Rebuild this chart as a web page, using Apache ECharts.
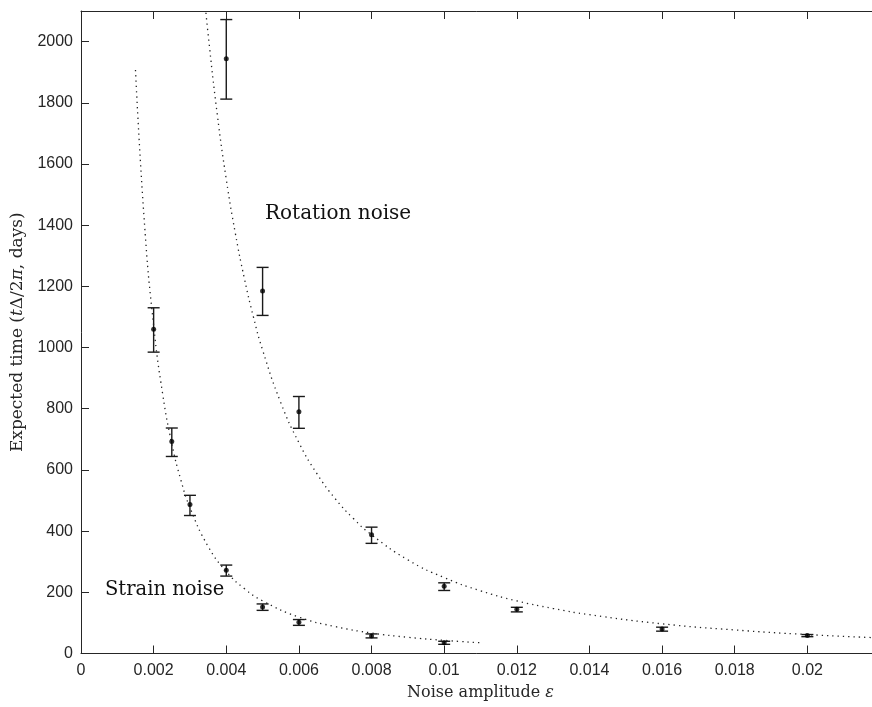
<!DOCTYPE html>
<html>
<head>
<meta charset="utf-8">
<script src="https://cdn.jsdelivr.net/npm/echarts@6/dist/echarts.min.js"></script>
<style>
  html, body { margin: 0; padding: 0; background: #fff; }
  #chart { width: 872px; height: 707px; }
</style>
</head>
<body>
<div id="chart"></div>
<script>
// measured points: [noise amplitude, mean time, lower, upper]
const strainPoints = [
  [0.002, 1060, 985, 1130],
  [0.0025, 693, 644, 737],
  [0.003, 487, 451, 517],
  [0.004, 272, 253, 289],
  [0.005, 152, 141, 162],
  [0.006, 102, 92, 111],
  [0.008, 57, 51, 64],
  [0.01, 35, 30, 40]
];
const rotationPoints = [
  [0.004, 1944, 1812, 2072],
  [0.005, 1185, 1105, 1262],
  [0.006, 790, 736, 840],
  [0.008, 388, 360, 413],
  [0.01, 220, 206, 231],
  [0.012, 145, 136, 151],
  [0.016, 80, 73, 86],
  [0.02, 59, 55, 62]
];
// dotted fit curves
const strainFit = [
  [0.0015, 1907], [0.00175, 1401], [0.002, 1072], [0.00225, 847], [0.0025, 686],
  [0.00275, 567], [0.003, 477], [0.0035, 350], [0.004, 268], [0.0045, 212],
  [0.005, 172], [0.006, 119], [0.007, 88], [0.008, 67], [0.009, 53],
  [0.01, 43], [0.011, 35]
];
const rotationFit = [
  [0.0034, 2145], [0.0035, 2024], [0.00375, 1764], [0.004, 1550], [0.00425, 1373],
  [0.0045, 1225], [0.00475, 1099], [0.005, 992], [0.0055, 820], [0.006, 689],
  [0.0065, 587], [0.007, 506], [0.0075, 441], [0.008, 388], [0.009, 306],
  [0.01, 248], [0.011, 205], [0.012, 172], [0.013, 147], [0.014, 127],
  [0.016, 97], [0.018, 77], [0.02, 62], [0.022, 51]
];

const chart = echarts.init(document.getElementById('chart'));

const axisColor = '#262626';
const serif = 'DejaVu Serif';
const tickFont = { color: axisColor, fontSize: 16, fontFamily: 'Liberation Sans' };

// error bar: vertical line with caps
function renderBar(params, api) {
  const x = api.value(0);
  const lo = api.coord([x, api.value(2)]);
  const hi = api.coord([x, api.value(3)]);
  const w = 6;
  const style = { stroke: '#1a1a1a', lineWidth: 1.4 };
  return {
    type: 'group',
    children: [
      { type: 'line', shape: { x1: lo[0], y1: lo[1], x2: hi[0], y2: hi[1] }, style },
      { type: 'line', shape: { x1: lo[0] - w, y1: lo[1], x2: lo[0] + w, y2: lo[1] }, style },
      { type: 'line', shape: { x1: hi[0] - w, y1: hi[1], x2: hi[0] + w, y2: hi[1] }, style }
    ]
  };
}

const option = {
  animation: false,
  backgroundColor: '#fff',
  grid: { left: 81, right: -8, top: 11, bottom: 53.5, containLabel: false, outerBoundsMode: 'none' },
  xAxis: [{
    type: 'value',
    min: 0, max: 0.022, interval: 0.002,
    name: '{n|Noise amplitude }{e|ε}',
    nameLocation: 'middle',
    nameGap: 31,
    nameTextStyle: {
      rich: {
        n: { fontFamily: serif, fontSize: 16, color: axisColor },
        e: { fontFamily: serif, fontStyle: 'italic', fontSize: 16, color: axisColor }
      }
    },
    axisLine: { onZero: false, lineStyle: { color: axisColor, width: 1 } },
    axisTick: { inside: true, length: 8, lineStyle: { color: axisColor } },
    axisLabel: Object.assign({ margin: 9, showMaxLabel: false,
      formatter: v => (Math.round(v * 1000) / 1000).toString() }, tickFont),
    splitLine: { show: false }
  }, {
    type: 'value', position: 'top',
    min: 0, max: 0.022, interval: 0.002,
    axisLine: { show: true, onZero: false, lineStyle: { color: axisColor } },
    axisTick: { show: true, inside: true, length: 8, lineStyle: { color: axisColor } },
    axisLabel: { show: false },
    splitLine: { show: false }
  }],
  yAxis: [{
    type: 'value',
    min: 0, max: 2100, interval: 200,
    name: '{n|Expected time (}{i|t}{n|Δ/2}{i|π}{n|, days)}',
    nameLocation: 'middle',
    nameGap: 55,
    nameTextStyle: {
      rich: {
        n: { fontFamily: serif, fontSize: 17, color: axisColor },
        i: { fontFamily: serif, fontStyle: 'italic', fontSize: 17, color: axisColor }
      }
    },
    axisLine: { show: true, onZero: false, lineStyle: { color: axisColor } },
    axisTick: { show: true, inside: true, length: 8, lineStyle: { color: axisColor } },
    axisLabel: Object.assign({ margin: 8, showMaxLabel: false,
      formatter: v => String(v) }, tickFont),
    splitLine: { show: false }
  }, {
    type: 'value', position: 'right',
    min: 0, max: 2100, interval: 200,
    axisLine: { show: true, onZero: false, lineStyle: { color: axisColor } },
    axisTick: { show: true, inside: true, length: 8, lineStyle: { color: axisColor } },
    axisLabel: { show: false },
    splitLine: { show: false }
  }],
  graphic: [
    { type: 'text', left: 265, top: 204,
      style: { text: 'Rotation noise', font: '20px "DejaVu Serif"', fill: '#111' } },
    { type: 'text', left: 105, top: 580,
      style: { text: 'Strain noise', font: '19.5px "DejaVu Serif"', fill: '#111' } }
  ],
  series: [
    {
      type: 'line', data: strainFit, smooth: true, showSymbol: false, clip: true,
      lineStyle: { color: '#222', width: 1.3, type: [1.3, 4] }
    },
    {
      type: 'line', data: rotationFit, smooth: true, showSymbol: false, clip: true,
      lineStyle: { color: '#222', width: 1.3, type: [1.3, 4] }
    },
    { type: 'custom', renderItem: renderBar, data: strainPoints, encode: { x: 0, y: [2, 3] }, z: 3 },
    { type: 'custom', renderItem: renderBar, data: rotationPoints, encode: { x: 0, y: [2, 3] }, z: 3 },
    {
      type: 'scatter', data: strainPoints.map(p => [p[0], p[1]]),
      symbolSize: 5, itemStyle: { color: '#000' }, z: 4
    },
    {
      type: 'scatter', data: rotationPoints.map(p => [p[0], p[1]]),
      symbolSize: 5, itemStyle: { color: '#000' }, z: 4
    }
  ]
};

chart.setOption(option);
</script>
</body>
</html>
